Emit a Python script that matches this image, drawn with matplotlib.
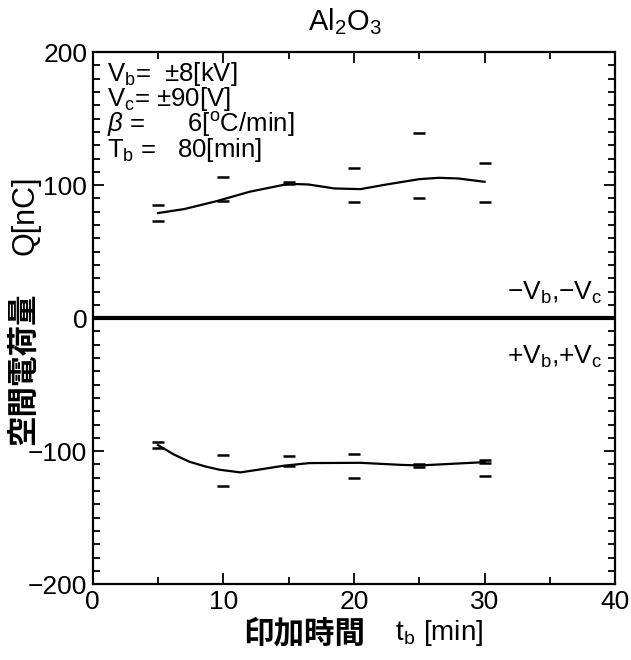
import matplotlib
matplotlib.use("Agg")

import matplotlib.pyplot as plt
from matplotlib.ticker import MultipleLocator

plt.rcParams["font.family"] = ["Liberation Sans", "Noto Sans CJK JP", "DejaVu Sans"]
plt.rcParams["mathtext.fontset"] = "custom"
plt.rcParams["mathtext.rm"] = "Liberation Sans"
plt.rcParams["mathtext.it"] = "Liberation Sans:italic"
plt.rcParams["mathtext.bf"] = "Liberation Sans:bold"

JP = ["Noto Sans CJK JP", "DejaVu Sans"]

# ── measured charge, one dash per reading ───────────────────── #
# -Vb,-Vc (upper half)
neg_t = [5, 5, 10, 10, 15, 15, 20, 20, 25, 25, 30, 30]
neg_q = [85, 73, 106, 88, 102, 100.5, 113, 87, 139, 90, 117, 87]
# +Vb,+Vc (lower half)
pos_t = [5, 5, 10, 10, 15, 15, 20, 20, 25, 25, 30, 30, 30]
pos_q = [-93.5, -98, -103, -126, -104, -111, -102.5, -120.5,
         -109.5, -112, -107, -109, -118.5]

# fitted trend curves
neg_fit_t = [5, 7, 9.5, 12, 15, 16.5, 17.5, 18.5, 20.5, 22.5, 25, 26.5, 28, 30]
neg_fit_q = [79, 82, 88, 95, 101, 100.5, 99, 97.5, 97, 100.5, 104.5, 105.5, 105, 102.5]
pos_fit_t = [5, 6.2, 7.4, 8.6, 9.7, 11.3, 13, 14.6, 16.6, 20.5, 23.5, 25, 27.6, 30]
pos_fit_q = [-95.5, -102.5, -108, -111.5, -114, -116, -113.5, -111, -109, -108.8,
             -110.3, -110.8, -109.5, -108.3]

fig = plt.figure(figsize=(6.31, 6.60), dpi=100, facecolor="white")
ax = fig.add_axes([0.147, 0.115, 0.828, 0.806])

ax.axhline(0, color="black", linewidth=3, zorder=2)

ax.plot(neg_fit_t, neg_fit_q, color="black", linewidth=1.6, zorder=3)
ax.plot(pos_fit_t, pos_fit_q, color="black", linewidth=1.6, zorder=3)
ax.plot(neg_t, neg_q, linestyle="none", marker="_", markersize=9,
        markeredgewidth=1.8, color="black", zorder=4)
ax.plot(pos_t, pos_q, linestyle="none", marker="_", markersize=9,
        markeredgewidth=1.8, color="black", zorder=4)

ax.set_xlim(0, 40)
ax.set_ylim(-200, 200)
ax.xaxis.set_major_locator(MultipleLocator(10))
ax.xaxis.set_minor_locator(MultipleLocator(5))
ax.yaxis.set_major_locator(MultipleLocator(100))
ax.yaxis.set_minor_locator(MultipleLocator(10))
ax.tick_params(which="both", direction="in", top=True, right=True,
               width=1.3, labelsize=19, colors="black")
ax.tick_params(which="major", length=8, pad=4)
ax.tick_params(which="minor", length=5)
for spine in ax.spines.values():
    spine.set_linewidth(1.6)

fig.text(0.547, 0.967, r"Al$_2$O$_3$", fontsize=21, ha="center", va="center")

# x label: bold kanji followed by t_b [min]
xl = fig.text(0.385, 0.041, "印加時間", family=JP, fontweight="bold",
              fontsize=22, ha="left", va="center")
ax.annotate(r"    t$_\mathrm{b}$ [min]", xy=(1, 0.5), xycoords=xl,
            fontsize=20, ha="left", va="center")

# y label, rotated
fig.text(0.037, 0.442, "空間電荷量", family=JP, fontweight="bold",
         fontsize=22, rotation=90, ha="center", va="center")
fig.text(0.040, 0.674, "Q[nC]", fontsize=22, rotation=90,
         ha="center", va="center")

# conditions block, one tightly spaced text
cond = "\n".join([r"V$_\mathrm{b}$=  ±8[kV]",
                  r"V$_\mathrm{c}$= ±90[V]",
                  r"$\beta$ =      6[$^\mathrm{o}$C/min]",
                  r"T$_\mathrm{b}$ =   80[min]"])
ax.text(0.028, 0.985, cond, transform=ax.transAxes, fontsize=18.5,
        va="top", ha="left", linespacing=0.86)

ax.text(0.975, 0.534, r"$-$V$_\mathrm{b}$,$-$V$_\mathrm{c}$",
        transform=ax.transAxes, fontsize=19, ha="right", va="baseline")
ax.text(0.975, 0.415, r"+V$_\mathrm{b}$,+V$_\mathrm{c}$",
        transform=ax.transAxes, fontsize=19, ha="right", va="baseline")

fig.savefig("out.png", dpi=100, facecolor="white")
